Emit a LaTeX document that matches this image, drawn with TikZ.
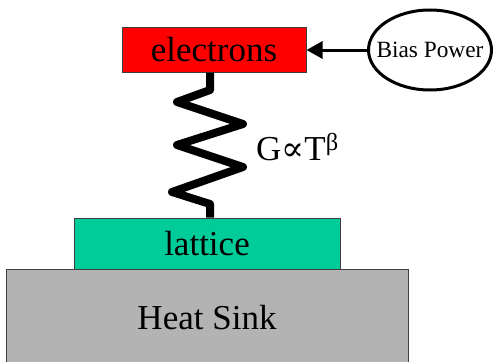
\documentclass[tikz,border=0pt]{standalone}
\usepackage{fontspec}
\setmainfont{Liberation Serif}
\newfontfamily\symfont{DejaVu Serif}
\usetikzlibrary{arrows.meta,shapes.geometric}
\begin{document}
\begin{tikzpicture}[x=1pt,y=-1pt,
  box/.style={draw=black!75, line width=1pt, inner sep=0pt, font=\fontsize{35}{40}\selectfont},
  spring/.style={line width=8pt, line join=round},
  feed/.style={line width=3pt, -{Triangle[length=16pt,width=17pt]}}]
\clip (0,0) rectangle (494,361);
\fill[white] (0,0) rectangle (494,361);
\node[box, fill={rgb,255:red,179;green,179;blue,179}, minimum width=402pt, minimum height=98pt] (hs) at (207,318) {Heat Sink};
\node[box, fill={rgb,255:red,0;green,204;blue,153}, minimum width=266pt, minimum height=51pt] (la) at (207,243.5) {lattice};
\node[box, fill=red, minimum width=184pt, minimum height=44pt] (el) at (214,50) {electrons};
\node[ellipse, draw, line width=3pt, inner sep=0pt, minimum width=123pt, minimum height=80pt] (bp) at (430,50) {};
\node[inner sep=0pt, font=\fontsize{23.3}{26}\selectfont] (bpt) at (bp.center) {Bias Power};
\draw[feed] (bp.west) -- (el.east);
\coordinate (sx) at (210,0);
\draw[spring] (sx |- el.south) -- (210,90) -- (177,102) -- (243,124) -- (177,145) -- (243,167) -- (172,192) -- (210,204) -- (sx |- la.north);
\node[anchor=base west, inner sep=0pt, font=\fontsize{35}{40}\selectfont] (lbl) at (256,160) {G{\symfont\fontsize{34}{36}\selectfont ∝}T\textsuperscript{β}};
\end{tikzpicture}
\end{document}
